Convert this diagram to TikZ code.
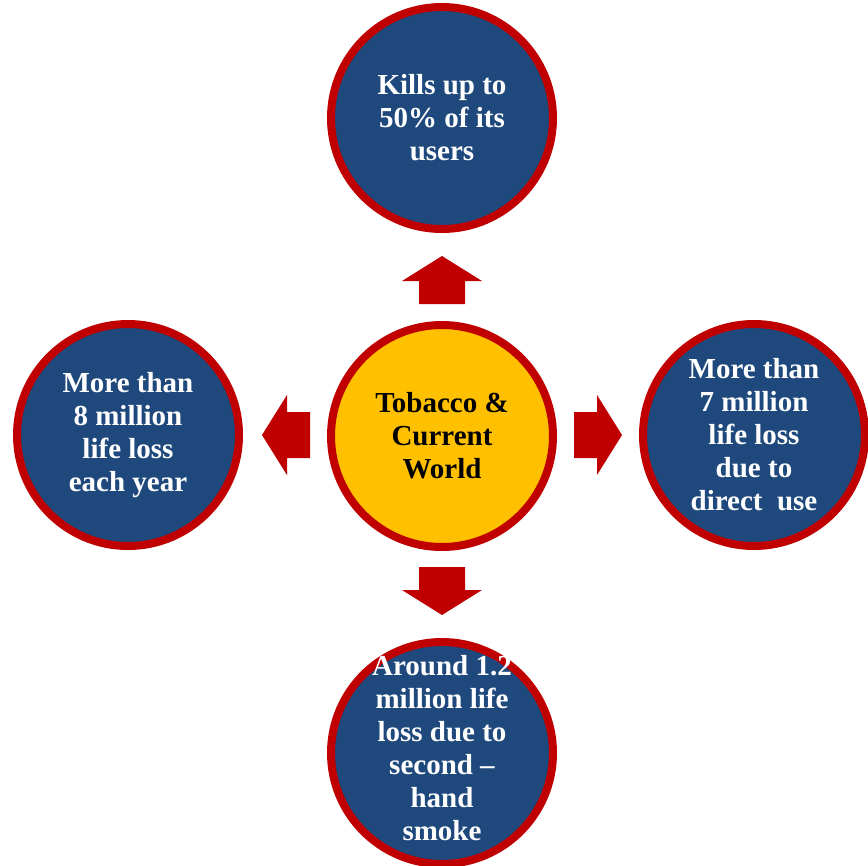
\documentclass[tikz,border=0pt]{standalone}
\usepackage{fontspec}
\setmainfont{Liberation Serif}
\usetikzlibrary{shadows}

\definecolor{ringred}{HTML}{C00000}
\definecolor{bubbleblue}{HTML}{1F497D}
\definecolor{coreyellow}{HTML}{FFC000}

% block arrow: #1 = base point, #2 = direction angle
\newcommand{\pointer}[2]{%
  \begin{scope}[shift={#1}, rotate=#2]
    \fill[ringred] (0,-23) -- (23,-23) -- (23,-40) -- (48,0) -- (23,40) -- (23,23) -- (0,23) -- cycle;
  \end{scope}}

\begin{document}
\begin{tikzpicture}[
  x=0.75pt, y=-0.75pt,
  bubble/.style={circle, draw=ringred, line width=6pt, fill=bubbleblue, minimum size=166.5pt, inner sep=0pt,
    drop shadow={shadow xshift=2pt, shadow yshift=-2pt, opacity=0.25}},
  core/.style={bubble, fill=coreyellow},
  note/.style={align=center, text=white, font=\bfseries\fontsize{21.75}{24.75}\selectfont, inner sep=0pt},
  corenote/.style={note, text=black}
]
  \useasboundingbox (0,0) rectangle (868,865);

  % circles
  \node[core]   (world)  at (442,436) {};
  \node[bubble] (kills)  at (442,118) {};
  \node[bubble] (yearly) at (128,435) {};
  \node[bubble] (direct) at (754,435) {};
  \node[bubble] (smoke)  at (442,753) {};

  % texts
  \node[corenote] (worldtext)  at (world)  {Tobacco \&\\Current\\World};
  \node[note]     (killstext)  at (kills)  {Kills up to\\50\% of its\\users};
  \node[note]     (yearlytext) at (yearly) {More than\\8 million\\life loss\\each year};
  \node[note]     (directtext) at (direct) {More than\\7 million\\life loss\\due to\\direct~~use};
  \node[note]     (smoketext)  at (442,748) {Around 1.2\\million life\\loss due to\\second --\\hand\\smoke};

  % arrows out of the centre
  \pointer{(442,304)}{90}
  \pointer{(442,567)}{270}
  \pointer{(310,435)}{180}
  \pointer{(574,435)}{0}
\end{tikzpicture}
\end{document}
